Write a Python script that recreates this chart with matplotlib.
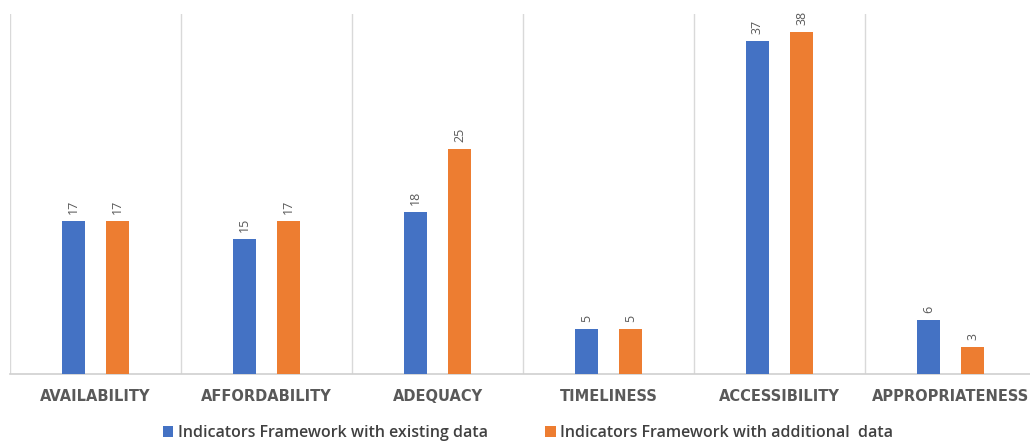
import matplotlib
matplotlib.use("Agg")
import matplotlib.pyplot as plt
import numpy as np

categories = ["AVAILABILITY", "AFFORDABILITY", "ADEQUACY", "TIMELINESS", "ACCESSIBILITY", "APPROPRIATENESS"]
existing = [17, 15, 18, 5, 37, 6]
additional = [17, 17, 25, 5, 38, 3]
series_names = ["Indicators Framework with existing data", "Indicators Framework with additional  data"]

plt.rcParams['font.family'] = ['Open Sans', 'DejaVu Sans']

fig = plt.figure(figsize=(10.30, 4.41), dpi=100)
ax = fig.add_axes([10/1030, 67/441, 1026/1030, 360/441])

x = np.arange(len(categories))
w = 0.135
off = 0.129
b1 = ax.bar(x - off, existing, w, color="#4472C4", label=series_names[0], zorder=3)
b2 = ax.bar(x + off, additional, w, color="#ED7D31", label=series_names[1], zorder=3)

for bars, vals in ((b1, existing), (b2, additional)):
    for r, v in zip(bars, vals):
        ax.annotate(str(v), (r.get_x() + r.get_width()/2, r.get_height()),
                    xytext=(0, 5), textcoords="offset points", rotation=90,
                    ha="center", va="bottom", fontsize=9, color="#595959")

ax.set_xlim(-0.5, len(categories) - 0.5)
ax.set_ylim(0, 40)
for gx in np.arange(-0.5, len(categories), 1.0):
    ax.axvline(gx, color="#D9D9D9", lw=1, zorder=1)
for s in ["top", "right", "left"]:
    ax.spines[s].set_visible(False)
ax.spines["bottom"].set_color("#D0D0D0")
ax.spines["bottom"].set_linewidth(1.2)
ax.set_yticks([])
ax.set_xticks(x)
ax.set_xticklabels(categories, fontsize=10.5, fontweight="bold", color="#595959",
                   family=["DejaVu Sans"])
ax.tick_params(axis="x", length=0, pad=11)

leg = fig.legend(handles=[b1, b2], loc="center", bbox_to_anchor=(528/1030, 1 - 433/441),
                 ncol=2, frameon=False, fontsize=11.5, handlelength=0.65, handleheight=0.65,
                 handletextpad=0.3, columnspacing=3.6)
for t in leg.get_texts():
    t.set_color("#404040")
    t.set_fontweight("semibold")

fig.savefig("out.png", dpi=100)
